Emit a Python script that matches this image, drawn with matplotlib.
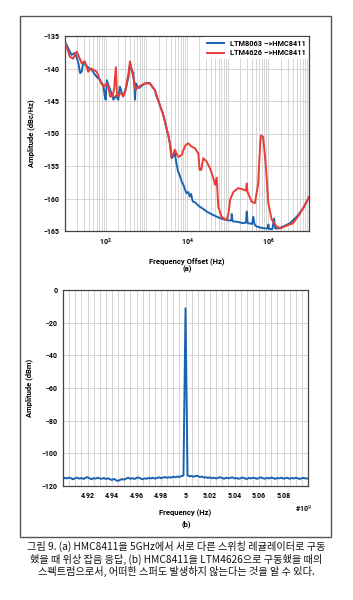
import numpy as np
import matplotlib.pyplot as plt
from matplotlib.ticker import MultipleLocator, FixedLocator, LogLocator, NullFormatter
from matplotlib.patches import Rectangle

# ---- (a) phase noise, x given as log10(offset Hz)
blue_lf = [1.00, 1.08, 1.16, 1.25, 1.33, 1.37, 1.41, 1.45, 1.53, 1.60, 1.66, 1.72, 1.78, 1.84,
           1.90, 1.94, 1.98, 2.00, 2.03, 2.07, 2.11, 2.15, 2.19, 2.25, 2.31, 2.35, 2.39, 2.43,
           2.50, 2.56, 2.60, 2.64, 2.68, 2.71, 2.72, 2.74, 2.78, 2.82, 2.90, 2.97, 3.05, 3.09,
           3.15, 3.21, 3.25, 3.30, 3.34, 3.40, 3.46, 3.50, 3.54, 3.58, 3.62, 3.66, 3.70, 3.74,
           3.78, 3.83, 3.87, 3.91, 3.95, 3.99, 4.03, 4.07, 4.10, 4.13, 4.15, 4.20, 4.25, 4.32,
           4.40, 4.48, 4.60, 4.73, 4.85, 4.97, 5.05, 5.09, 5.10, 5.12, 5.25, 5.38, 5.45, 5.47,
           5.49, 5.60, 5.63, 5.66, 5.71, 5.82, 5.92, 5.98, 6.00, 6.02, 6.10, 6.14, 6.17, 6.25,
           6.37, 6.53, 6.70, 6.86, 7.00]
blue_db = [-135.9, -136.9, -137.9, -137.6, -139.2, -140.7, -140.5, -139.0, -139.6, -140.0, -140.2,
           -140.8, -141.3, -141.6, -142.3, -142.5, -144.3, -144.8, -141.8, -142.6, -143.3, -143.9,
           -144.8, -144.2, -144.8, -142.8, -143.6, -144.3, -143.0, -141.3, -139.2, -140.2, -140.7,
           -143.0, -144.8, -142.3, -142.8, -143.0, -142.6, -142.3, -142.2, -142.3, -142.8, -143.3,
           -144.3, -145.0, -145.8, -146.8, -148.2, -149.3, -150.3, -151.5, -153.8, -153.5, -153.0,
           -154.6, -155.8, -156.6, -157.4, -157.9, -158.6, -159.2, -159.0, -159.7, -159.3, -160.2,
           -160.5, -160.6, -160.9, -161.3, -161.6, -162.0, -162.4, -162.8, -163.1, -163.3, -163.4,
           -163.3, -162.4, -163.5, -163.6, -163.8, -163.7, -162.0, -163.8, -163.9, -162.8, -164.0,
           -164.3, -164.5, -164.6, -164.6, -164.0, -164.7, -164.7, -163.1, -164.6, -164.6, -164.3,
           -163.8, -162.8, -161.5, -159.8]

red_lf = [1.00, 1.06, 1.12, 1.20, 1.25, 1.29, 1.33, 1.37, 1.41, 1.49, 1.57, 1.64, 1.70, 1.78,
          1.86, 1.94, 2.03, 2.07, 2.11, 2.17, 2.21, 2.25, 2.28, 2.35, 2.39, 2.43, 2.48, 2.56,
          2.60, 2.64, 2.68, 2.74, 2.78, 2.82, 2.90, 2.97, 3.09, 3.15, 3.21, 3.30, 3.34, 3.40,
          3.46, 3.50, 3.54, 3.58, 3.62, 3.66, 3.70, 3.75, 3.79, 3.87, 3.95, 4.03, 4.11, 4.20,
          4.28, 4.31, 4.35, 4.40, 4.48, 4.57, 4.65, 4.69, 4.73, 4.77, 4.85, 4.95, 5.00, 5.02,
          5.06, 5.14, 5.26, 5.38, 5.45, 5.47, 5.49, 5.59, 5.67, 5.75, 5.80, 5.82, 5.87, 5.91,
          5.94, 6.00, 6.08, 6.20, 6.30, 6.40, 6.61, 6.78, 6.94, 7.00]
red_db = [-136.2, -137.0, -138.2, -138.5, -137.8, -137.4, -138.0, -138.6, -139.2, -138.9, -140.5,
          -140.0, -140.2, -140.5, -141.8, -142.8, -142.3, -143.0, -144.3, -144.3, -143.0, -139.8,
          -144.3, -143.9, -143.8, -144.3, -143.6, -140.7, -138.9, -140.3, -141.3, -143.3, -142.9,
          -142.8, -142.5, -142.3, -142.3, -142.9, -143.3, -145.0, -145.8, -146.8, -148.2, -149.3,
          -150.3, -151.5, -153.6, -153.2, -152.5, -153.2, -153.6, -153.3, -151.9, -151.5, -152.0,
          -152.3, -153.1, -155.6, -155.6, -153.8, -154.3, -155.4, -156.9, -157.9, -156.8, -161.3,
          -162.8, -163.3, -162.9, -162.3, -160.2, -159.0, -158.4, -158.6, -158.8, -157.7, -159.0,
          -160.5, -160.7, -157.7, -151.5, -150.3, -150.5, -153.0, -155.1, -160.7, -163.2, -164.3,
          -164.6, -164.3, -163.8, -162.3, -160.5, -159.8]

# ---- (b) spectrum, 4.9..5.1 x1e9 Hz
spec_db = [-115.6, -115.0, -115.4, -114.8, -115.3, -115.9, -115.2, -114.9, -115.5, -115.1,
           -115.7, -115.0, -114.6, -115.3, -115.8, -115.2, -115.5, -114.9, -115.4, -115.6,
           -115.1, -115.7, -115.3, -115.9, -116.3, -115.6, -116.5, -116.9, -116.2, -115.8,
           -116.1, -115.4, -115.0, -115.6, -115.2, -115.7, -115.1, -114.8, -115.4, -115.9,
           -115.3, -115.6, -115.0, -115.4, -114.9, -115.5, -115.1, -114.7, -115.2, -114.8,
           -114.5, -115.0, -114.6, -114.9, -114.3, -114.7, -114.2, -114.5, -113.9, -113.6,
           -11.2,
           -113.5, -114.1, -113.8, -114.4, -113.7, -113.9, -114.5, -114.2, -114.8, -114.6,
           -115.1, -114.7, -115.3, -114.9, -115.4, -115.0, -114.6, -115.2, -115.5, -114.9,
           -115.3, -115.0, -114.7, -115.4, -115.1, -115.6, -115.2, -114.8, -115.3, -115.7,
           -115.0, -115.4, -114.9, -115.2, -115.6, -115.1, -114.7, -115.3, -115.5, -115.0,
           -115.4, -114.8, -115.2, -115.6, -115.1, -115.3, -114.9, -115.5, -115.2, -115.0,
           -115.6, -115.1, -115.4, -114.9, -115.3, -115.7, -115.2, -115.0, -115.5, -115.3]
spec_f = np.linspace(4.9, 5.1, len(spec_db))
spec_ticks = [4.92, 4.94, 4.96, 4.98, 5.0, 5.02, 5.04, 5.06, 5.08]
spec_ticklabels = ['4.92', '4.94', '4.96', '4.98', '5', '5.02', '5.04', '5.06', '5.08']

caption = ("그림 9. (a) HMC8411을 5GHz에서 서로 다른 스위칭 레귤레이터로 구동\n"
           "했을 때 위상 잡음 응답, (b) HMC8411을 LTM4626으로 구동했을 때의\n"
           "스펙트럼으로서, 어떠한 스퍼도 발생하지 않는다는 것을 알 수 있다.")

blue = '#1b62b0'
red = '#eb3d36'
gc = '#cfcfcf'
sc = '#444444'
fs = 5
plt.rcParams['font.family'] = ['Roboto', 'DejaVu Sans']

fig = plt.figure(figsize=(3.53, 6.0), dpi=100)
fig.patches.append(Rectangle((20/353, 1-537/600), 311/353, 521/600, transform=fig.transFigure,
                             fill=False, edgecolor='#555555', linewidth=1.0))

# top chart
ax1 = fig.add_axes([65/353, 1-231/600, 244/353, 195/600])
ax1.plot(10**np.array(blue_lf), blue_db, color=blue, linewidth=1.4, label='LTM8063 \u2013>HMC8411', zorder=3)
ax1.plot(10**np.array(red_lf), red_db, color=red, linewidth=1.4, label='LTM4626 \u2013>HMC8411', zorder=4)
ax1.set_xscale('log')
ax1.set_xlim(10, 1e7)
ax1.set_ylim(-165, -135)
ax1.yaxis.set_major_locator(MultipleLocator(5))
ax1.xaxis.set_major_locator(FixedLocator([1e2, 1e4, 1e6]))
ax1.xaxis.set_minor_locator(LogLocator(base=10, subs=np.arange(1, 10), numticks=20))
ax1.xaxis.set_minor_formatter(NullFormatter())
ax1.grid(True, which='both', axis='x', color=gc, linewidth=0.6)
ax1.grid(True, which='major', axis='y', color=gc, linewidth=0.6)
ax1.tick_params(which='both', length=0, labelsize=fs, pad=4)
ax1.set_xlabel('Frequency Offset (Hz)', fontsize=fs+0.5, fontweight='bold', labelpad=7)
ax1.set_ylabel('Amplitude (dBc/Hz)', fontsize=fs+0.5, fontweight='bold', labelpad=6)
for s in ax1.spines.values():
    s.set_color(sc)
    s.set_linewidth(0.9)
for t in ax1.get_xticklabels() + ax1.get_yticklabels():
    t.set_fontweight('bold')
leg = ax1.legend(loc='upper right', fontsize=fs+0.3, frameon=True, fancybox=False, framealpha=1,
                 edgecolor='none', handlelength=2.2, borderpad=0.3, labelspacing=0.2,
                 borderaxespad=0.2)
for t in leg.get_texts():
    t.set_fontweight('bold')
fig.text(187/353, 1-269/600, '(a)', ha='center', va='center', fontsize=fs+0.5, fontweight='bold')

# bottom chart
ax2 = fig.add_axes([63/353, 1-486/600, 245/353, 196/600])
ax2.plot(spec_f, spec_db, color=blue, linewidth=1.4)
ax2.set_xlim(4.9, 5.1)
ax2.set_ylim(-120, 0)
ax2.set_xticks(spec_ticks)
ax2.set_xticklabels(spec_ticklabels)
ax2.xaxis.set_minor_locator(MultipleLocator(0.005))
ax2.yaxis.set_major_locator(MultipleLocator(20))
ax2.grid(True, which='both', axis='x', color=gc, linewidth=0.6)
ax2.grid(True, which='major', axis='y', color=gc, linewidth=0.6)
ax2.tick_params(which='both', length=0, labelsize=fs, pad=4)
ax2.set_xlabel('Frequency (Hz)', fontsize=fs+0.5, fontweight='bold', labelpad=7)
ax2.set_ylabel('Amplitude (dBm)', fontsize=fs+0.5, fontweight='bold', labelpad=6)
for s in ax2.spines.values():
    s.set_color(sc)
    s.set_linewidth(0.9)
for t in ax2.get_xticklabels() + ax2.get_yticklabels():
    t.set_fontweight('bold')
fig.text(303/353, 1-509/600, '#10$^9$', ha='center', va='center', fontsize=fs, fontweight='bold')
fig.text(186/353, 1-524/600, '(b)', ha='center', va='center', fontsize=fs+0.5, fontweight='bold')

fig.text(0.5, 1-559/600, caption, ha='center', va='center', fontsize=7.3, linespacing=1.2,
         color='#111111', family=['Noto Sans CJK KR', 'DejaVu Sans'])

plt.savefig('out.png', dpi=100)
